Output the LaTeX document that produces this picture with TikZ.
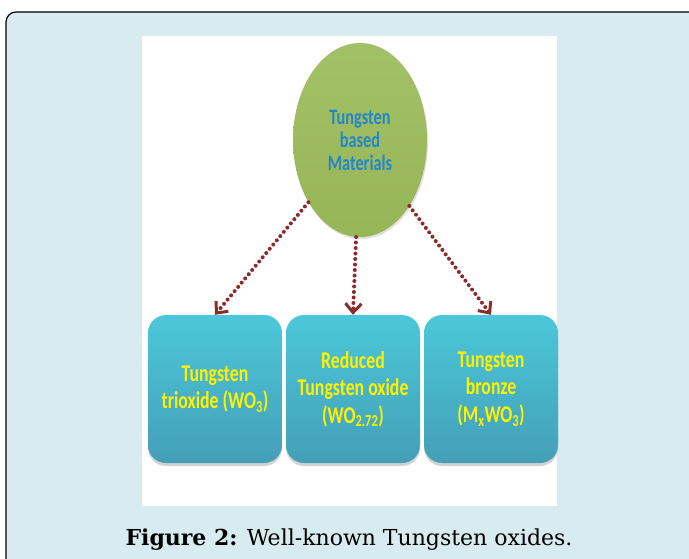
\documentclass[tikz,border=0pt]{standalone}
\usepackage{fontspec}
\setmainfont{DejaVu Serif}
\newfontfamily\calfont[FakeStretch=0.74]{Carlito}
\usetikzlibrary{arrows.meta,shadows,shapes.geometric}
\definecolor{panelblue}{HTML}{D7EBF1}
\definecolor{leafgreen}{HTML}{9BBB59}
\definecolor{boxteal}{HTML}{4AADC7}
\definecolor{linkred}{HTML}{8B2B2B}
\definecolor{textblue}{HTML}{2386C8}
\tikzset{
  base/.style={ellipse, minimum width=134pt, minimum height=194pt, inner sep=0pt,
    top color=leafgreen!92!white, bottom color=leafgreen!97!black,
    drop shadow={shadow xshift=1pt, shadow yshift=-2pt, opacity=0.25},
    text=textblue, align=center, font=\calfont\bfseries\fontsize{22}{23}\selectfont},
  oxide/.style={rectangle, rounded corners=18pt, minimum width=134pt, minimum height=148pt,
    inner sep=0pt, top color=boxteal!75!cyan!90!white, middle color=boxteal, bottom color=boxteal!92!black,
    drop shadow={shadow xshift=0pt, shadow yshift=-3pt, opacity=0.35},
    text=yellow, align=center, font=\calfont\bfseries\fontsize{24}{27.5}\selectfont},
  link/.style={draw=linkred, line width=4pt, line cap=round, dash pattern=on 0pt off 5.5pt,
    -{Straight Barb[length=9pt, width=16pt, line width=3pt]}}
}
\begin{document}
\begin{tikzpicture}
    [x=1pt,y=1pt]
    \useasboundingbox (0,0) rectangle (689,-558);
    \clip (0,0) rectangle (689,-558);
    % panel and figure area
    \fill[panelblue, draw=black, line width=1.2pt, rounded corners=10pt] (6,-12) rectangle (705,-600);
    \fill[white] (142,-36) rectangle (557,-506);
    \node[base] (mat) at (360,-140) {Tungsten\\based\\Materials}
      [level distance=249pt, sibling distance=138pt,
       edge from parent/.style={link},
       edge from parent path={(\tikzparentnode) -- (\tikzchildnode.north)}]
      child[xshift=-7pt] {node[oxide] (tri) {Tungsten\\trioxide (WO\textsubscript{3})}}
      child[xshift=-7pt] {node[oxide] (red) {Reduced\\Tungsten oxide\\(WO\textsubscript{2.72})}}
      child[xshift=-7pt] {node[oxide] (bro) {Tungsten\\bronze\\(M\textsubscript{x}WO\textsubscript{3})}};
    \node[font=\fontsize{22}{24}\selectfont] (cap) at (349,-540)
      {\textbf{Figure 2:} Well-known Tungsten oxides.};
\end{tikzpicture}
\end{document}
